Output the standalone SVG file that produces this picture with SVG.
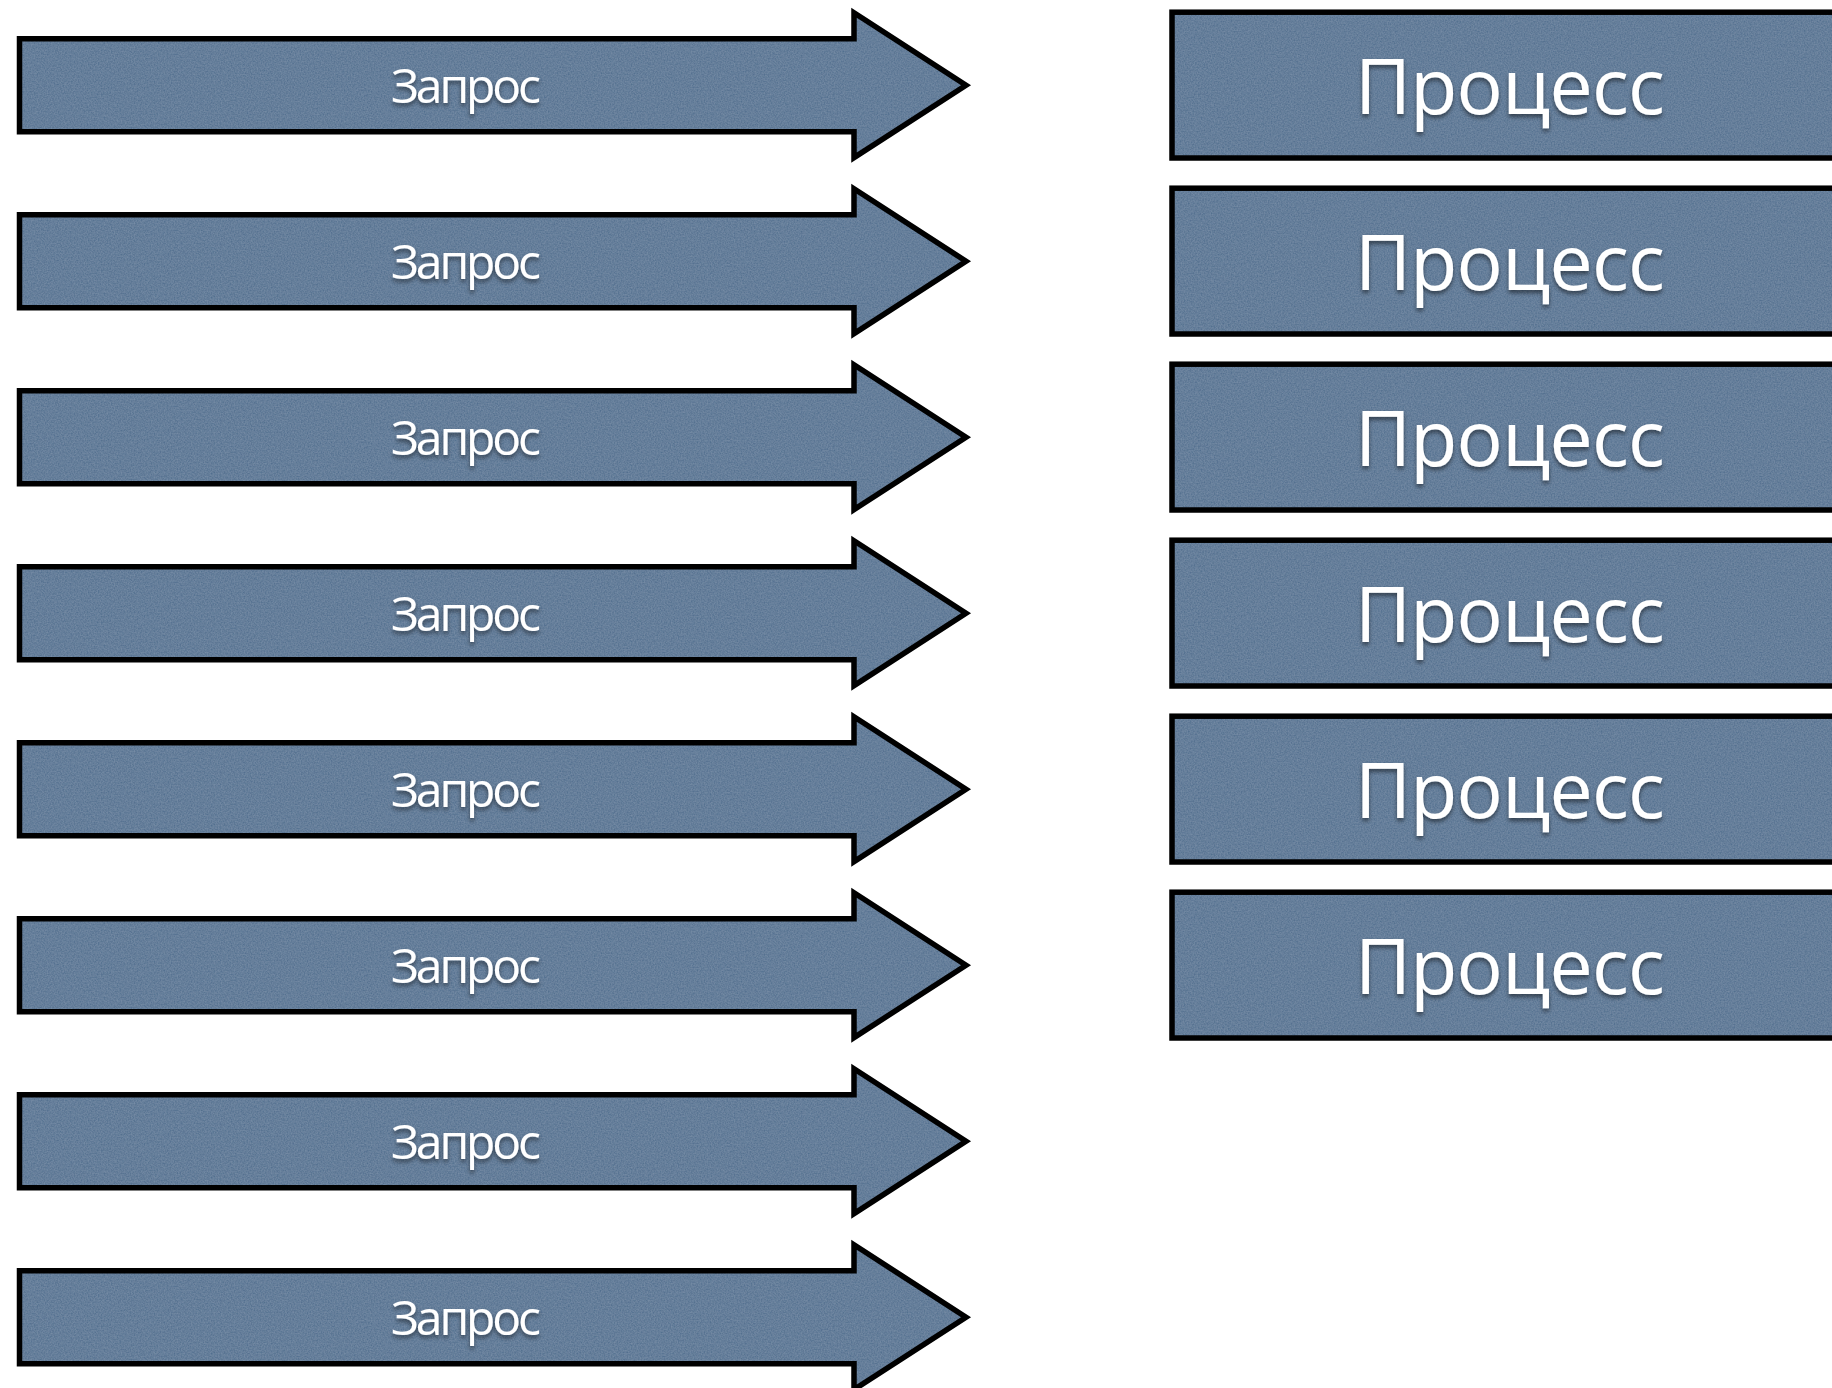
<svg xmlns="http://www.w3.org/2000/svg" width="1832" height="1388" viewBox="0 0 1832 1388">
<defs>
<filter id="tex" x="0" y="0" width="1" height="1">
<feTurbulence type="fractalNoise" baseFrequency="0.7" numOctaves="2" seed="3" result="n"/>
<feColorMatrix in="n" type="matrix" values="0 0 0 0 0.40  0 0 0 0 0.50  0 0 0 0 0.62  0 0 0 0.4 -0.05" result="g"/>
<feComposite in="g" in2="SourceGraphic" operator="in" result="gi"/>
<feMerge><feMergeNode in="SourceGraphic"/><feMergeNode in="gi"/></feMerge>
</filter>
<filter id="sh" x="-10%" y="-20%" width="120%" height="150%">
<feGaussianBlur in="SourceAlpha" stdDeviation="2"/>
<feOffset dx="0" dy="3" result="b"/>
<feComponentTransfer in="b" result="b2"><feFuncA type="linear" slope="0.5"/></feComponentTransfer>
<feMerge><feMergeNode in="b2"/><feMergeNode in="SourceGraphic"/></feMerge>
</filter>
<path id="arrow" d="M19.5,38.7 H854 V12.8 L966,85.2 L854,157.6 V131.7 H19.5 Z"/>
<rect id="box" x="1172" y="12.2" width="700" height="145.8"/>
</defs>
<style>
.fill{fill:#53708f;stroke:none}
.line{fill:none;stroke:#000;stroke-width:5.5;stroke-linejoin:miter;stroke-miterlimit:10}
.lbl{fill:#fff;font-family:"Open Sans","Noto Sans",sans-serif;text-anchor:middle}
.req{font-size:48px}
.proc{font-size:77px}
</style>
<g id="connectors"></g>
<g id="requests">
<g id="req1"><use href="#arrow" class="fill" filter="url(#tex)"/><use href="#arrow" class="line"/><text class="lbl req" x="466" y="103" textLength="150" lengthAdjust="spacing" filter="url(#sh)">Запрос</text></g>
<g id="req2" transform="translate(0,176)"><use href="#arrow" class="fill" filter="url(#tex)"/><use href="#arrow" class="line"/><text class="lbl req" x="466" y="103" textLength="150" lengthAdjust="spacing" filter="url(#sh)">Запрос</text></g>
<g id="req3" transform="translate(0,352)"><use href="#arrow" class="fill" filter="url(#tex)"/><use href="#arrow" class="line"/><text class="lbl req" x="466" y="103" textLength="150" lengthAdjust="spacing" filter="url(#sh)">Запрос</text></g>
<g id="req4" transform="translate(0,528)"><use href="#arrow" class="fill" filter="url(#tex)"/><use href="#arrow" class="line"/><text class="lbl req" x="466" y="103" textLength="150" lengthAdjust="spacing" filter="url(#sh)">Запрос</text></g>
<g id="req5" transform="translate(0,704)"><use href="#arrow" class="fill" filter="url(#tex)"/><use href="#arrow" class="line"/><text class="lbl req" x="466" y="103" textLength="150" lengthAdjust="spacing" filter="url(#sh)">Запрос</text></g>
<g id="req6" transform="translate(0,880)"><use href="#arrow" class="fill" filter="url(#tex)"/><use href="#arrow" class="line"/><text class="lbl req" x="466" y="103" textLength="150" lengthAdjust="spacing" filter="url(#sh)">Запрос</text></g>
<g id="req7" transform="translate(0,1056)"><use href="#arrow" class="fill" filter="url(#tex)"/><use href="#arrow" class="line"/><text class="lbl req" x="466" y="103" textLength="150" lengthAdjust="spacing" filter="url(#sh)">Запрос</text></g>
<g id="req8" transform="translate(0,1232)"><use href="#arrow" class="fill" filter="url(#tex)"/><use href="#arrow" class="line"/><text class="lbl req" x="466" y="103" textLength="150" lengthAdjust="spacing" filter="url(#sh)">Запрос</text></g>
</g>
<g id="processes">
<g id="proc1"><use href="#box" class="fill" filter="url(#tex)"/><use href="#box" class="line"/><text class="lbl proc" x="1510" y="114" textLength="310" lengthAdjust="spacing" filter="url(#sh)">Процесс</text></g>
<g id="proc2" transform="translate(0,176)"><use href="#box" class="fill" filter="url(#tex)"/><use href="#box" class="line"/><text class="lbl proc" x="1510" y="114" textLength="310" lengthAdjust="spacing" filter="url(#sh)">Процесс</text></g>
<g id="proc3" transform="translate(0,352)"><use href="#box" class="fill" filter="url(#tex)"/><use href="#box" class="line"/><text class="lbl proc" x="1510" y="114" textLength="310" lengthAdjust="spacing" filter="url(#sh)">Процесс</text></g>
<g id="proc4" transform="translate(0,528)"><use href="#box" class="fill" filter="url(#tex)"/><use href="#box" class="line"/><text class="lbl proc" x="1510" y="114" textLength="310" lengthAdjust="spacing" filter="url(#sh)">Процесс</text></g>
<g id="proc5" transform="translate(0,704)"><use href="#box" class="fill" filter="url(#tex)"/><use href="#box" class="line"/><text class="lbl proc" x="1510" y="114" textLength="310" lengthAdjust="spacing" filter="url(#sh)">Процесс</text></g>
<g id="proc6" transform="translate(0,880)"><use href="#box" class="fill" filter="url(#tex)"/><use href="#box" class="line"/><text class="lbl proc" x="1510" y="114" textLength="310" lengthAdjust="spacing" filter="url(#sh)">Процесс</text></g>
</g>
</svg>
